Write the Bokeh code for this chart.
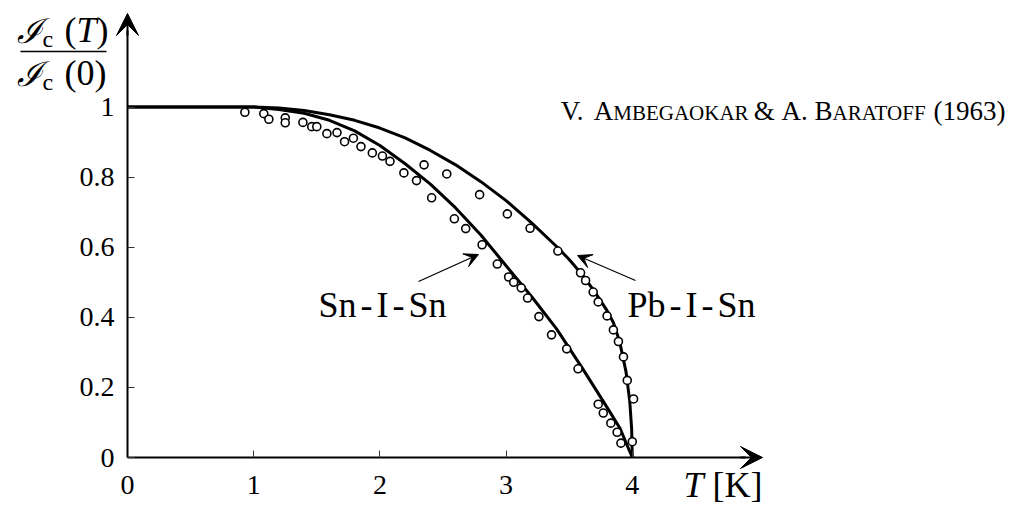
from bokeh.plotting import figure
from bokeh.models import (Range1d, FixedTicker, CustomJSTickFormatter, Arrow,
                          VeeHead, Label, ColumnDataSource)
from bokeh.embed import file_html
from bokeh.resources import INLINE

# ---------------- data ----------------
# measured points, Sn-I-Sn junction
sn_T = [0.93, 1.08, 1.12, 1.25, 1.25, 1.39, 1.46, 1.50, 1.58, 1.66, 1.72, 1.79,
        1.85, 1.94, 2.02, 2.08, 2.19, 2.29, 2.41, 2.59, 2.68, 2.81, 2.93, 3.02,
        3.06, 3.12, 3.17, 3.26, 3.36, 3.48, 3.57, 3.73, 3.77, 3.83, 3.88, 3.91]
sn_Y = [0.985, 0.981, 0.965, 0.969, 0.955, 0.956, 0.944, 0.944, 0.924, 0.927,
        0.901, 0.911, 0.887, 0.869, 0.860, 0.845, 0.812, 0.790, 0.741, 0.681,
        0.653, 0.607, 0.552, 0.515, 0.500, 0.484, 0.455, 0.402, 0.350, 0.310,
        0.253, 0.152, 0.127, 0.098, 0.072, 0.041]
# measured points, Pb-I-Sn junction
pb_T = [2.35, 2.53, 2.79, 3.01, 3.19, 3.41, 3.59, 3.63, 3.69, 3.73, 3.80, 3.85,
        3.89, 3.93, 3.96, 4.01, 4.00]
pb_Y = [0.835, 0.809, 0.750, 0.695, 0.654, 0.589, 0.527, 0.505, 0.472, 0.444,
        0.404, 0.364, 0.331, 0.287, 0.220, 0.167, 0.045]
# theory curves (Ambegaokar-Baratoff)
sn_curve_T = [0.0, 0.5, 1.0, 1.2, 1.4, 1.6, 1.8, 2.0, 2.2, 2.4, 2.6, 2.8, 3.0,
              3.2, 3.4, 3.6, 3.8, 3.9, 4.0]
sn_curve_Y = [1.0, 1.0, 1.0, 0.993, 0.982, 0.962, 0.932, 0.890, 0.838, 0.780,
              0.712, 0.635, 0.547, 0.460, 0.367, 0.257, 0.143, 0.085, 0.0]
pb_curve_T = [0.0, 0.5, 1.0, 1.2, 1.4, 1.6, 1.8, 2.0, 2.2, 2.4, 2.6, 2.8, 3.0,
              3.2, 3.4, 3.5, 3.6, 3.7, 3.8, 3.85, 3.9, 3.95, 3.98, 3.995, 4.0]
pb_curve_Y = [1.0, 1.0, 1.0, 0.997, 0.990, 0.978, 0.962, 0.940, 0.912, 0.876,
              0.835, 0.787, 0.733, 0.670, 0.602, 0.565, 0.523, 0.474, 0.419,
              0.385, 0.330, 0.245, 0.160, 0.080, 0.0]
x_ticks = [0, 1, 2, 3, 4]
y_ticks = [0, 0.2, 0.4, 0.6, 0.8, 1.0]

# ---------------- layout helpers (pixel -> data) ----------------
W, H = 1028, 505
X0, XS = 127.0, 126.2
Y0, YS = 457.0, 350.5
def fx(px): return (px - X0) / XS
def fy(py): return (Y0 - py) / YS

SERIF = "Liberation Serif"

p = figure(width=W, height=H, x_range=Range1d(fx(0), fx(W)),
           y_range=Range1d(fy(H), fy(0)), output_backend="svg",
           toolbar_location=None, min_border=0)
p.outline_line_color = None
p.grid.visible = False
p.background_fill_color = "white"
p.border_fill_color = "white"

fmt = CustomJSTickFormatter(code="return String(Math.round(tick*10)/10)")
for ax, ticks, bnd in ((p.xaxis[0], x_ticks, (0, fx(745))),
                       (p.yaxis[0], y_ticks, (0, fy(30)))):
    ax.fixed_location = 0
    ax.ticker = FixedTicker(ticks=ticks)
    ax.formatter = fmt
    ax.bounds = bnd
    ax.axis_line_width = 2
    ax.axis_line_color = "black"
    ax.major_tick_in = 7
    ax.major_tick_out = 0
    ax.major_tick_line_color = "#333333"
    ax.major_tick_line_width = 1
    ax.minor_tick_line_color = None
    ax.major_label_text_font = SERIF
    ax.major_label_text_font_size = "28px"
    ax.major_label_text_color = "black"
p.xaxis[0].major_label_standoff = 18
p.yaxis[0].major_label_standoff = 13

# axis arrow heads
p.add_layout(Arrow(end=VeeHead(size=22, fill_color="black", line_color="black"),
                   x_start=fx(740), y_start=0, x_end=fx(762), y_end=0,
                   line_width=2, line_color="black"))
p.add_layout(Arrow(end=VeeHead(size=22, fill_color="black", line_color="black"),
                   x_start=0, y_start=fy(35), x_end=0, y_end=fy(13),
                   line_width=2, line_color="black"))

# curves
p.line(sn_curve_T, sn_curve_Y, line_width=3, line_color="black")
p.line(pb_curve_T, pb_curve_Y, line_width=3, line_color="black")

# points
src_sn = ColumnDataSource(dict(T=sn_T, Y=sn_Y))
src_pb = ColumnDataSource(dict(T=pb_T, Y=pb_Y))
for s in (src_sn, src_pb):
    p.scatter("T", "Y", source=s, marker="circle", size=8, line_width=1.6,
              line_color="black", fill_color="white")

# annotation arrows
p.add_layout(Arrow(end=VeeHead(size=14, fill_color="black", line_color="black"),
                   x_start=fx(418), y_start=fy(281), x_end=fx(478), y_end=fy(254),
                   line_width=1.2, line_color="black"))
p.add_layout(Arrow(end=VeeHead(size=14, fill_color="black", line_color="black"),
                   x_start=fx(635), y_start=fy(280), x_end=fx(577), y_end=fy(255),
                   line_width=1.2, line_color="black"))

BASE_SHIFT = 0.34  # label anchor correction (fraction of font size)

def lab(px, py, text, size, style="normal", font=SERIF, align="left"):
    p.add_layout(Label(x=fx(px), y=fy(py - BASE_SHIFT * size), text=text,
                       text_font=font, text_font_size=f"{size}px",
                       text_font_style=style, text_align=align,
                       text_baseline="alphabetic", text_color="black"))

TW = {'V': 722, '.': 250, ' ': 250, 'A': 722, 'M': 889, 'B': 667, 'E': 611,
      'G': 722, 'O': 722, 'K': 722, 'R': 667, '&': 778, 'T': 611, 'F': 556,
      '(': 333, ')': 333, '1': 500, '9': 500, '6': 500, '3': 500, 'S': 556,
      'n': 500, '-': 333, 'I': 333, 'P': 556, 'b': 500}

def spaced(px, py, parts, size, gap):
    for t in parts:
        lab(px, py, t, size)
        px += sum(TW[c] for c in t) * size / 1000 + gap

spaced(318, 317, ["Sn", "-", "I", "-", "Sn"], 36, 4)
spaced(627, 317, ["Pb", "-", "I", "-", "Sn"], 36, 4)

# x-axis title
lab(683, 497, "T", 36, "italic")
lab(712, 497, "[K]", 36)

# y-axis title (fraction)
lab(16, 42, "\u2110", 34, "italic", "DejaVu Serif")
lab(42, 47, "c", 24)
lab(64, 42, "(", 36)
lab(76, 42, "T", 36, "italic")
lab(96, 42, ")", 36)
p.segment(x0=[fx(20)], y0=[fy(51)], x1=[fx(106)], y1=[fy(51)],
          line_color="black", line_width=1.5)
lab(16, 85, "\u2110", 34, "italic", "DejaVu Serif")
lab(42, 90, "c", 24)
lab(64, 85, "(0)", 36)

# reference title with small caps
BIG, SMALL = 27, 21
segs = [("V.", BIG, True), ("A", BIG, False), ("MBEGAOKAR", SMALL, True),
        ("&", BIG, True), ("A.", BIG, True), ("B", BIG, False),
        ("ARATOFF", SMALL, True), ("(1963)", BIG, False)]
widths = [(sum(TW[c] for c in t) + (250 if sp else 0)) * s / 1000
          for t, s, sp in segs]
xpos = 1005 - sum(widths)
for (t, s, sp), w in zip(segs, widths):
    lab(xpos, 120, t, s)
    xpos += w

open("out.html", "w").write(file_html(p, INLINE))
